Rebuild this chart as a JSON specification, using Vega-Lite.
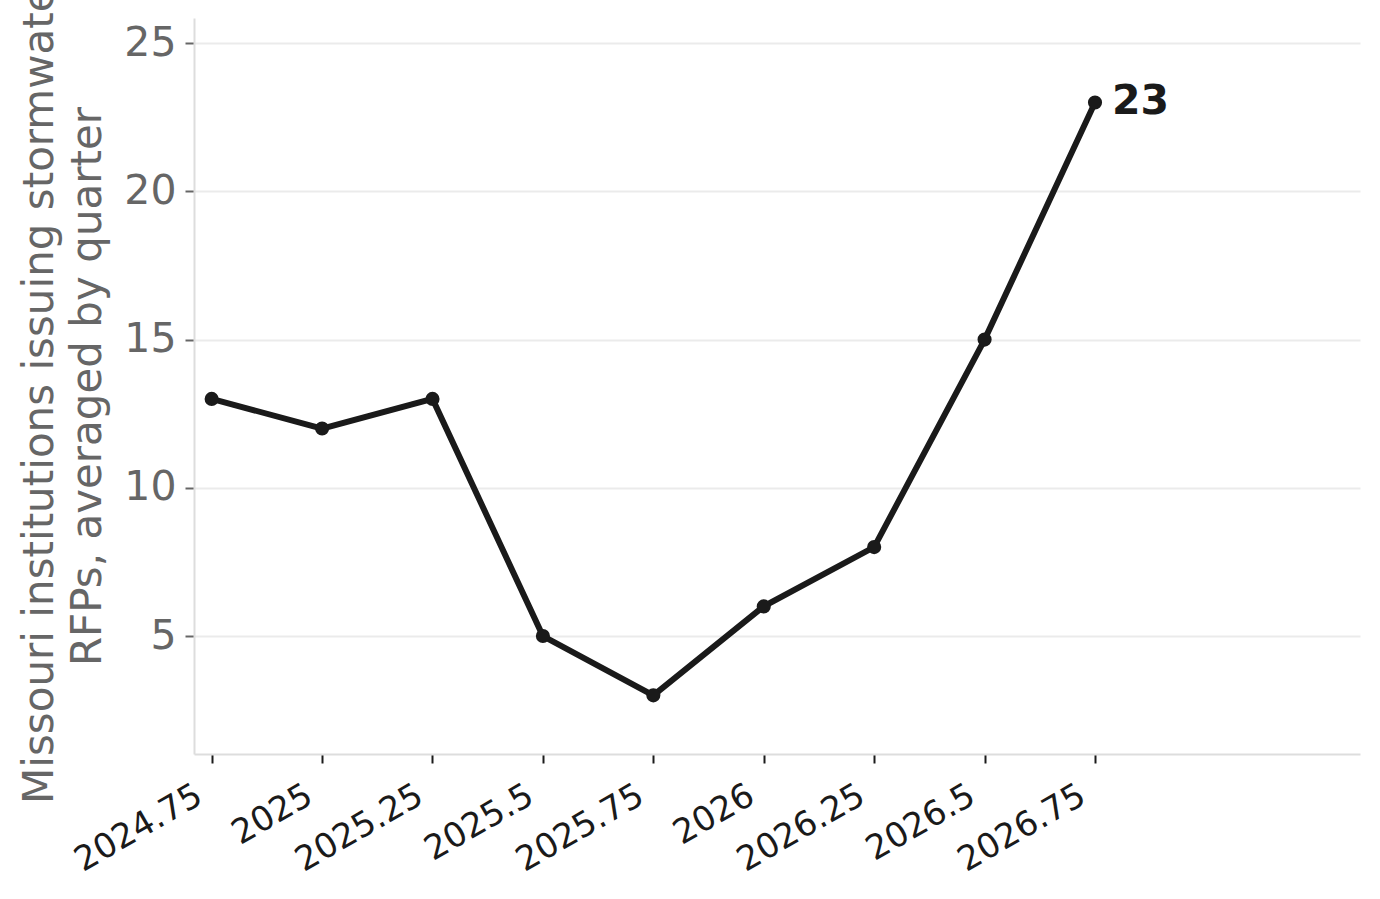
{
  "$schema": "https://vega.github.io/schema/vega-lite/v6.json",
  "autosize": {"type": "none"},
  "padding": {"left": 194, "top": 18, "right": 20, "bottom": 145},
  "width": 1166,
  "height": 736,
  "background": "white",
  "data": {
    "values": [
      {"quarter": 2024.75, "rfps": 13},
      {"quarter": 2025.0, "rfps": 12},
      {"quarter": 2025.25, "rfps": 13},
      {"quarter": 2025.5, "rfps": 5},
      {"quarter": 2025.75, "rfps": 3},
      {"quarter": 2026.0, "rfps": 6},
      {"quarter": 2026.25, "rfps": 8},
      {"quarter": 2026.5, "rfps": 15},
      {"quarter": 2026.75, "rfps": 23}
    ]
  },
  "encoding": {
    "x": {
      "field": "quarter",
      "type": "quantitative",
      "title": null,
      "scale": {"domain": [2024.71, 2027.35], "nice": false, "zero": false},
      "axis": {
        "values": [2024.75, 2025, 2025.25, 2025.5, 2025.75, 2026, 2026.25, 2026.5, 2026.75],
        "format": ".6~g",
        "labelOverlap": false,
        "grid": false,
        "labelAngle": -30,
        "labelAlign": "right",
        "labelBaseline": "top",
        "labelFontSize": 34,
        "labelColor": "#1a1a1a",
        "labelPadding": 15,
        "labelOffset": -21,
        "tickColor": "#1a1a1a",
        "tickSize": 9,
        "tickWidth": 2,
        "domainColor": "#dddddd",
        "domainWidth": 2
      }
    },
    "y": {
      "field": "rfps",
      "type": "quantitative",
      "title": ["Missouri institutions issuing stormwater", "RFPs, averaged by quarter"],
      "scale": {"domain": [1.02, 25.85], "nice": false, "zero": false},
      "axis": {
        "values": [5, 10, 15, 20, 25],
        "grid": true,
        "gridColor": "#ebebeb",
        "gridWidth": 2,
        "labelFontSize": 41,
        "labelColor": "#666666",
        "labelPadding": 9,
        "tickColor": "#666666",
        "tickSize": 9,
        "tickWidth": 2,
        "domainColor": "#dddddd",
        "domainWidth": 2,
        "titleFontSize": 42,
        "titleFontWeight": "normal",
        "titleColor": "#666666",
        "titleLineHeight": 48,
        "titlePadding": 14
      }
    }
  },
  "layer": [
    {
      "mark": {"type": "line", "color": "#1a1a1a", "strokeWidth": 6}
    },
    {
      "mark": {"type": "point", "filled": true, "color": "#1a1a1a", "size": 200, "opacity": 1}
    },
    {
      "transform": [{"filter": "datum.quarter == 2026.75"}],
      "mark": {
        "type": "text",
        "align": "left",
        "baseline": "middle",
        "dx": 17,
        "fontSize": 41,
        "fontWeight": "bold",
        "color": "#1a1a1a"
      },
      "encoding": {"text": {"field": "rfps", "type": "quantitative"}}
    }
  ],
  "config": {
    "font": "DejaVu Sans",
    "view": {"stroke": null}
  }
}
